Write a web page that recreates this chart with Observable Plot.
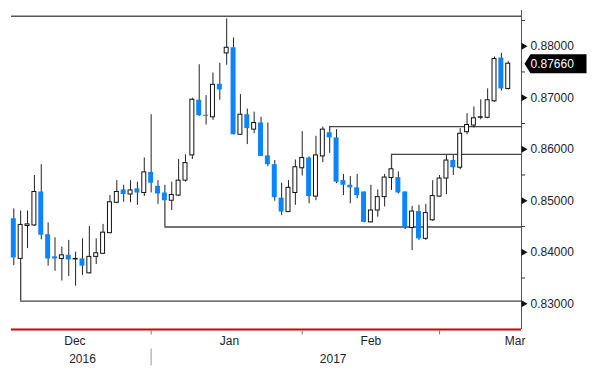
<!DOCTYPE html>
<html>
<head>
<meta charset="utf-8">
<script src="https://cdn.jsdelivr.net/npm/d3@7"></script>
<script src="https://cdn.jsdelivr.net/npm/@observablehq/plot@0.6"></script>
<style>
  html, body { margin: 0; padding: 0; background: #fff; }
  #chart { width: 600px; height: 380px; overflow: hidden; }
</style>
</head>
<body>
<div id="chart"></div>
<script>
// Daily candles (business days), index 0 = early Dec 2016 ... index 72 = mid Mar 2017
const open = [
  0.8465, 0.8387, 0.8451, 0.8452, 0.8517, 0.8434, 0.8391, 0.8387, 0.8394, 0.8386,
  0.8387, 0.8359, 0.8391, 0.8397, 0.8437, 0.8496, 0.8521, 0.8512, 0.8523, 0.8515,
  0.8555, 0.8528, 0.8515, 0.8500, 0.8510, 0.8539, 0.8588, 0.8695, 0.8666, 0.8662,
  0.8726, 0.8786, 0.8797, 0.8628, 0.8667, 0.8638, 0.8651, 0.8587, 0.8570, 0.8505,
  0.8478, 0.8515, 0.8563, 0.8583, 0.8508, 0.8586, 0.8632, 0.8622, 0.8539, 0.8530,
  0.8525, 0.8517, 0.8458, 0.8481, 0.8507, 0.8544, 0.8545, 0.8517, 0.8447, 0.8479,
  0.8426, 0.8462, 0.8508, 0.8543, 0.8578, 0.8564, 0.8633, 0.8646, 0.8661, 0.8661,
  0.8693, 0.8777, 0.8717
];
const high = [
  0.8484, 0.8480, 0.8480, 0.8549, 0.8570, 0.8457, 0.8428, 0.8410, 0.8423, 0.8400,
  0.8426, 0.8450, 0.8426, 0.8454, 0.8510, 0.8539, 0.8530, 0.8539, 0.8536, 0.8583,
  0.8667, 0.8539, 0.8530, 0.8536, 0.8580, 0.8589, 0.8699, 0.8764, 0.8704, 0.8748,
  0.8767, 0.8853, 0.8816, 0.8706, 0.8678, 0.8672, 0.8662, 0.8651, 0.8578, 0.8534,
  0.8539, 0.8579, 0.8634, 0.8585, 0.8625, 0.8643, 0.8634, 0.8638, 0.8551, 0.8547,
  0.8551, 0.8517, 0.8530, 0.8521, 0.8551, 0.8562, 0.8556, 0.8517, 0.8489, 0.8491,
  0.8493, 0.8539, 0.8549, 0.8588, 0.8588, 0.8640, 0.8669, 0.8682, 0.8696, 0.8717,
  0.8779, 0.8786, 0.8770
];
const low = [
  0.8374, 0.8378, 0.8407, 0.8450, 0.8424, 0.8373, 0.8363, 0.8344, 0.8353, 0.8334,
  0.8355, 0.8358, 0.8376, 0.8396, 0.8436, 0.8494, 0.8497, 0.8496, 0.8491, 0.8508,
  0.8515, 0.8493, 0.8495, 0.8481, 0.8508, 0.8536, 0.8580, 0.8664, 0.8647, 0.8656,
  0.8695, 0.8763, 0.8628, 0.8627, 0.8609, 0.8630, 0.8586, 0.8566, 0.8499, 0.8471,
  0.8477, 0.8491, 0.8548, 0.8494, 0.8500, 0.8574, 0.8592, 0.8533, 0.8510, 0.8494,
  0.8504, 0.8457, 0.8457, 0.8468, 0.8488, 0.8520, 0.8513, 0.8444, 0.8403, 0.8423,
  0.8423, 0.8460, 0.8507, 0.8512, 0.8549, 0.8560, 0.8628, 0.8641, 0.8657, 0.8659,
  0.8691, 0.8713, 0.8715
];
const close = [
  0.8389, 0.8453, 0.8454, 0.8517, 0.8433, 0.8387, 0.8387, 0.8394, 0.8385, 0.8387,
  0.8373, 0.8391, 0.8398, 0.8438, 0.8497, 0.8517, 0.8512, 0.8520, 0.8515, 0.8555,
  0.8534, 0.8513, 0.8500, 0.8511, 0.8539, 0.8573, 0.8696, 0.8665, 0.8664, 0.8725,
  0.8715, 0.8797, 0.8628, 0.8667, 0.8640, 0.8651, 0.8586, 0.8570, 0.8506, 0.8478,
  0.8525, 0.8565, 0.8583, 0.8508, 0.8588, 0.8638, 0.8622, 0.8536, 0.8530, 0.8525,
  0.8510, 0.8458, 0.8481, 0.8507, 0.8545, 0.8561, 0.8515, 0.8447, 0.8479, 0.8426,
  0.8476, 0.8509, 0.8543, 0.8578, 0.8564, 0.8630, 0.8647, 0.8660, 0.8662, 0.8695,
  0.8775, 0.8717, 0.8766
];

// Horizontal level annotations: level, candle index where it starts
const levelValues = [0.8644, 0.8590, 0.8449, 0.8305];
const levelStart  = [46, 55, 22, 1];
const topLevel = 0.8858;

// Axis ticks / labels
const yMajorTicks = [0.83, 0.84, 0.85, 0.86, 0.87, 0.88];
const yMinorTicks = [0.835, 0.845, 0.855, 0.865, 0.875, 0.885];
const monthNames = ["Dec", "Jan", "Feb", "Mar"];
const monthLabelAt = [8.9, 31.4, 52.0, 73.0];
const monthEndIndex = [20, 42, 62];
const yearNames = ["2016", "2017"];
const yearLabelAt = [10, 46.5];
const yearBreakIndex = 20;

const xMin = -0.335, xMax = 73.93;
const yMin = 0.825, yMax = 0.88693;

const candles = open.map((o, i) => ({i, o, h: high[i], l: low[i], c: close[i], up: close[i] >= o}));
const upC = candles.filter(d => d.up);
const dnC = candles.filter(d => !d.up);
const levels = levelValues.map((v, k) => {
  const c = candles[levelStart[k]];
  return {v, i: c.i, end: v > c.h ? c.h : c.l};
});
const lastClose = close[close.length - 1];

const triRight = {draw(ctx) { ctx.moveTo(0, -3.5); ctx.lineTo(6, 0); ctx.lineTo(0, 3.5); ctx.closePath(); }};
const minorTick = {draw(ctx) { ctx.moveTo(0, 0); ctx.lineTo(3.5, 0); }};
const tagShape = {draw(ctx) { ctx.moveTo(0, 0); ctx.lineTo(6, -9.5); ctx.lineTo(62, -9.5); ctx.lineTo(62, 9.5); ctx.lineTo(6, 9.5); ctx.closePath(); }};
const xTickShape = {draw(ctx) { ctx.moveTo(0, 1); ctx.lineTo(0, 5); }};
const yearSep = {draw(ctx) { ctx.moveTo(0, 19); ctx.lineTo(0, 36); }};

const font = "Liberation Sans, Arial, sans-serif";
const txt = "#1c1c30";

const chart = Plot.plot({
  width: 600,
  height: 380,
  marginLeft: 11,
  marginRight: 79,
  marginTop: 10,
  marginBottom: 51,
  x: {type: "linear", domain: [xMin, xMax], axis: null},
  y: {type: "linear", domain: [yMin, yMax], axis: null},
  style: {fontFamily: font, background: "#fff", overflow: "visible"},
  marks: [
    // top horizontal line
    Plot.ruleY([topLevel], {stroke: "#555", strokeWidth: 1.5}),
    // level lines
    Plot.ruleY(levels, {y: "v", x1: "i", x2: xMax, stroke: "#444", strokeWidth: 1.3}),
    Plot.ruleX(levels, {x: "i", y1: "v", y2: "end", stroke: "#444", strokeWidth: 1.3}),
    // wicks
    Plot.ruleX(candles, {x: "i", y1: "l", y2: "h", stroke: "#222", strokeWidth: 1}),
    // down bodies
    Plot.rect(dnC, {x1: d => d.i - 0.5, x2: d => d.i + 0.5, y1: "o", y2: "c", fill: "#0a84ff", insetLeft: 0.95, insetRight: 0.95}),
    // up bodies
    Plot.rect(upC, {x1: d => d.i - 0.5, x2: d => d.i + 0.5, y1: "o", y2: "c", fill: "#fff", stroke: "#111", strokeWidth: 1, insetLeft: 1.45, insetRight: 1.45}),
    // right axis line
    Plot.ruleX([xMax], {stroke: "#555", strokeWidth: 1}),
    // bottom red line
    Plot.ruleY([yMin], {stroke: "#d10000", strokeWidth: 2}),
    // y ticks
    Plot.dot(yMajorTicks, {x: xMax, y: d => d, symbol: triRight, fill: "#111", stroke: "none"}),
    Plot.dot(yMinorTicks, {x: xMax, y: d => d, symbol: minorTick, fill: "none", stroke: "#333", strokeWidth: 1}),
    Plot.text(yMajorTicks, {x: xMax, y: d => d, text: d => d.toFixed(5), dx: 9, textAnchor: "start", fill: txt, fontSize: 12}),
    // last price tag
    Plot.dot([lastClose], {x: xMax, y: d => d, symbol: tagShape, fill: "#000", stroke: "none", dx: 3}),
    Plot.text([lastClose], {x: xMax, y: d => d, text: d => d.toFixed(5), dx: 9, textAnchor: "start", fill: "#fff", fontSize: 12}),
    // x axis ticks and labels
    Plot.dot(monthEndIndex, {x: d => d, y: yMin, symbol: xTickShape, fill: "none", stroke: "#777", strokeWidth: 1}),
    Plot.text(monthNames, {x: (d, k) => monthLabelAt[k], y: yMin, text: d => d, dy: 12, fill: txt, fontSize: 12}),
    Plot.dot([yearBreakIndex], {x: d => d, y: yMin, symbol: yearSep, fill: "none", stroke: "#bbb", strokeWidth: 1.5}),
    Plot.text(yearNames, {x: (d, k) => yearLabelAt[k], y: yMin, text: d => d, dy: 30, fill: txt, fontSize: 12})
  ]
});
document.getElementById("chart").appendChild(chart);
</script>
</body>
</html>
